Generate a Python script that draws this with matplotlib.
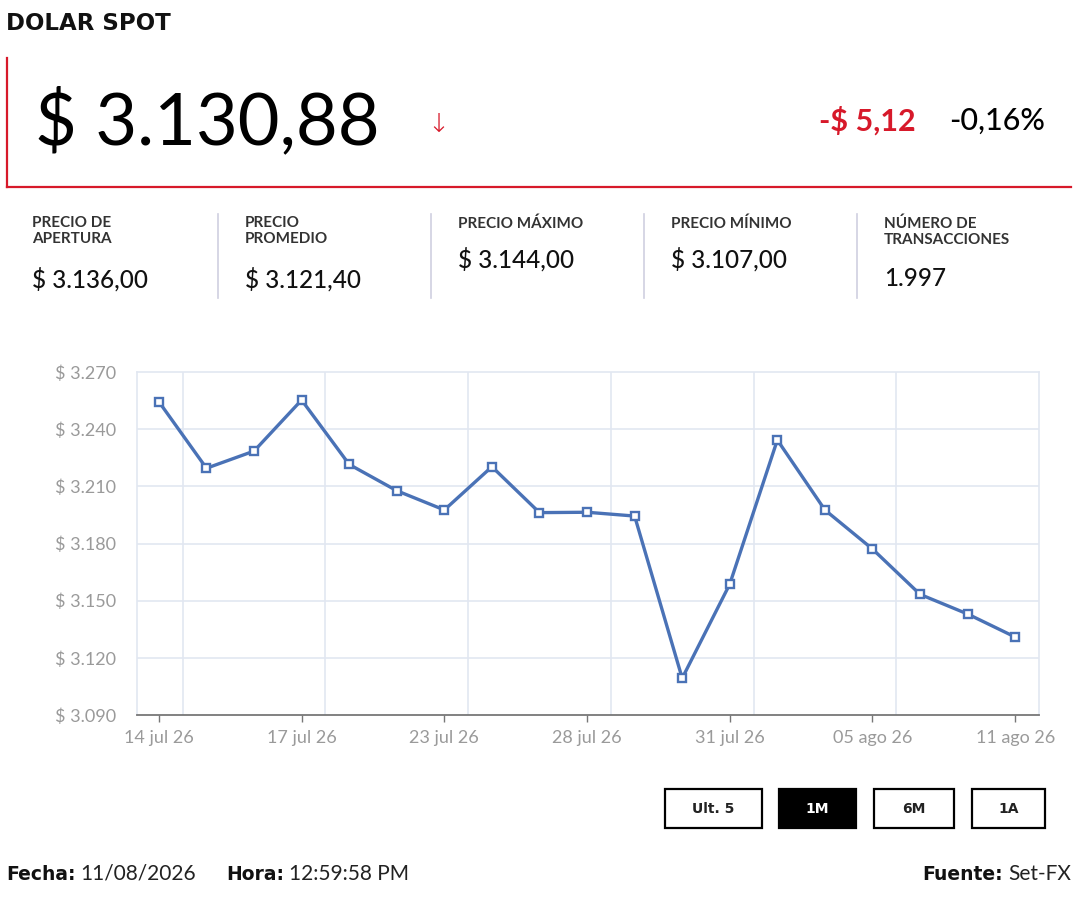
import matplotlib
matplotlib.use("Agg")
import matplotlib.pyplot as plt
from matplotlib.lines import Line2D
from matplotlib.patches import Rectangle

plt.rcParams['font.family'] = ['Lato', 'DejaVu Sans']
BOLD_FAMILY = ['DejaVu Sans']

# data
fechas = ['14 jul 26', '15 jul 26', '16 jul 26', '17 jul 26', '21 jul 26', '22 jul 26',
          '23 jul 26', '24 jul 26', '27 jul 26', '28 jul 26', '29 jul 26', '30 jul 26',
          '31 jul 26', '03 ago 26', '04 ago 26', '05 ago 26', '06 ago 26', '10 ago 26',
          '11 ago 26']
precios = [3254.4, 3219.5, 3228.5, 3255.3, 3221.5, 3207.7, 3197.6, 3220.3, 3196.2,
           3196.4, 3194.4, 3109.3, 3158.7, 3234.3, 3197.6, 3177.1, 3153.3, 3143.0, 3130.9]
y_ticks = [3090, 3120, 3150, 3180, 3210, 3240, 3270]

precio_actual = '$ 3.130,88'
cambio = '-$ 5,12'
cambio_pct = '-0,16%'
stat_labels = ['PRECIO DE\nAPERTURA', 'PRECIO\nPROMEDIO', 'PRECIO MÁXIMO',
               'PRECIO MÍNIMO', 'NÚMERO DE\nTRANSACCIONES']
stat_values = ['$ 3.136,00', '$ 3.121,40', '$ 3.144,00', '$ 3.107,00', '1.997']
botones = ['Ult. 5', '1M', '6M', '1A']

W, H = 1080, 900
RED = '#d7192a'
BLUE = '#4a72b6'


def fx(px):
    return px / W


def fy(py):
    return 1 - py / H


fig = plt.figure(figsize=(W / 100, H / 100), dpi=100)
fig.patch.set_facecolor('white')

# header
fig.text(fx(6), fy(23), 'DOLAR SPOT', fontsize=16.5, fontweight='bold', color='#111111',
         va='center', ha='left', family=BOLD_FAMILY)
fig.add_artist(Line2D([fx(7), fx(7)], [fy(58), fy(187)], color=RED, lw=1.6))
fig.add_artist(Line2D([fx(7), fx(1071)], [fy(187), fy(187)], color=RED, lw=1.6))
fig.text(fx(35), fy(122), precio_actual, fontsize=52, color='black', va='center', ha='left')
fig.text(fx(438), fy(124), '↓', fontsize=19, color=RED, va='center', ha='center',
         family=['DejaVu Sans'], fontweight='light')
fig.text(fx(916), fy(121), cambio, fontsize=22, color=RED, fontweight='bold',
         va='center', ha='right')
fig.text(fx(1045), fy(121), cambio_pct, fontsize=22, color='black', fontweight='medium',
         va='center', ha='right')

# stats row
col_x = [32, 245, 458, 671, 884]
for i, (lab, val) in enumerate(zip(stat_labels, stat_values)):
    fig.text(fx(col_x[i]), fy(216), lab, fontsize=11, color='#333333', va='top', ha='left',
             fontweight='bold', linespacing=1.2)
    vy = 279 if '\n' in lab else 259
    fig.text(fx(col_x[i]), fy(vy), val, fontsize=17.5, color='#111111', va='center',
             ha='left', fontweight='medium')
    if i > 0:
        sx = col_x[i] - 27
        fig.add_artist(Line2D([fx(sx), fx(sx)], [fy(214), fy(298)], color='#cfcfe0', lw=1.2))

# chart
ax = fig.add_axes([fx(137), fy(715), fx(1039) - fx(137), fy(372) - fy(715)])
x = list(range(len(precios)))
ax.plot(x, precios, color=BLUE, lw=2.4, marker='s', markersize=5.5, markerfacecolor='white',
        markeredgecolor=BLUE, markeredgewidth=1.7, zorder=3)
ax.set_xlim(-0.46, len(precios) - 0.5)
ax.set_ylim(y_ticks[0], y_ticks[-1])
ax.set_yticks(y_ticks)
ax.set_yticklabels([f'$ {v / 1000:.3f}' for v in y_ticks])
ax.set_xticks(x[::3])
ax.set_xticklabels(fechas[::3])
ax.grid(False)
for v in y_ticks[1:-1]:
    ax.axhline(v, color='#e2e7f1', lw=1.2, zorder=1)
for v in [i + 0.5 for i in x[::3]][:-1]:
    ax.axvline(v, color='#e2e7f1', lw=1.2, zorder=1)
for side in ['left', 'top', 'right']:
    ax.spines[side].set_color('#e2e7f1')
    ax.spines[side].set_linewidth(1.2)
ax.spines['bottom'].set_color('#777777')
ax.spines['bottom'].set_linewidth(1.3)
ax.tick_params(axis='y', length=0, pad=15, labelsize=13, labelcolor='#9a9a9a')
ax.tick_params(axis='x', length=5, width=1, color='#777777', pad=6,
               labelsize=13, labelcolor='#9a9a9a')

# range buttons
btn_x = [(665, 762), (779, 856), (874, 954), (972, 1045)]
for (x0, x1), txt in zip(btn_x, botones):
    activo = txt == '1M'
    fig.add_artist(Rectangle((fx(x0), fy(828)), fx(x1) - fx(x0), fy(789) - fy(828),
                             facecolor='black' if activo else 'white', edgecolor='black',
                             lw=1.6, transform=fig.transFigure))
    fig.text(fx((x0 + x1) / 2), fy(809), txt, fontsize=10, fontweight='bold',
             family=BOLD_FAMILY, color='white' if activo else '#222222',
             va='center', ha='center')

# footer
fig.canvas.draw()
renderer = fig.canvas.get_renderer()


def label_value(px, lab, val, right=False):
    t1 = fig.text(fx(px), fy(874), lab, fontsize=13.5, fontweight='bold', color='#111111',
                  va='center', ha='left', family=BOLD_FAMILY)
    ext = t1.get_window_extent(renderer)
    t2 = fig.text(ext.x1 / W + fx(5), fy(874), val, fontsize=15, color='#222222',
                  va='center', ha='left')
    if right:
        ext2 = t2.get_window_extent(renderer)
        shift = (ext2.x1 - fx(1071) * W) / W
        t1.set_x(t1.get_position()[0] - shift)
        t2.set_x(t2.get_position()[0] - shift)


label_value(6, 'Fecha:', '11/08/2026')
label_value(226, 'Hora:', '12:59:58 PM')
label_value(900, 'Fuente:', 'Set-FX', right=True)

fig.savefig('out.png', dpi=100)
